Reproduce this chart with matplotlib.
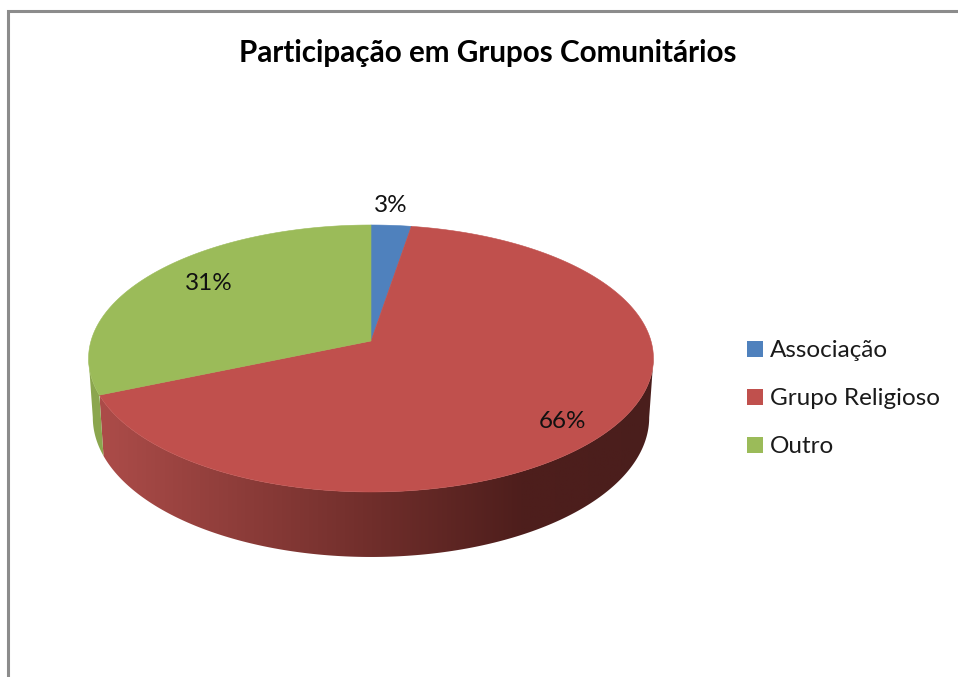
import numpy as np
import matplotlib
matplotlib.use("Agg")
import matplotlib.pyplot as plt
from matplotlib.colors import LinearSegmentedColormap
from matplotlib.patches import Polygon, Rectangle

categories = ["Associação", "Grupo Religioso", "Outro"]
values = [2.6, 66, 31.4]
pct_labels = ["3%", "66%", "31%"]
colors = ["#4f81bd", "#c0504d", "#9bbb59"]
title = "Participação em Grupos Comunitários"

W, H = 958, 677
plt.rcParams["font.family"] = ["Lato", "DejaVu Sans"]

# perspective of the disc, in pixels
CX, CY = 371, 341
A, B, K = 280, 131.2, 0.131


def top_xy(t):
    u, v = np.sin(t), np.cos(t)
    w = 1 + K * v
    return CX + A * u / w, CY - B * v / w


def bottom_xy(t):
    x, y = top_xy(t)
    return CX + (x - CX) * 0.985, y + 58 - 7 * np.cos(t)


def wall(t0, t1):
    ts = np.linspace(t0, t1, 200)
    xa, ya = top_xy(ts)
    xb, yb = bottom_xy(ts[::-1])
    return list(zip(xa, ya)) + list(zip(xb, yb))


fig = plt.figure(figsize=(W / 100, H / 100), dpi=100)
ax = fig.add_axes([0, 0, 1, 1])
ax.axis("off")

# frame of the chart area, cut off by the screenshot
ax.plot([8.5, 8.5, W], [H, 10.5, 10.5], color="#8c8c8c", lw=2.2, solid_joinstyle="miter")

edges = 2 * np.pi * np.cumsum([0] + values) / sum(values)

# only the front of the wall shows, between the two tangent points
t_right = np.arccos(-K)
t_left = 2 * np.pi - np.arccos(-K)

# side wall: red goes dark from left to right, green is a thin sliver
red_cmap = LinearSegmentedColormap.from_list("red_side", [
    (0.0, "#ac4c49"),
    (0.49, "#702e2b"),
    (0.76, "#4e1e1c"),
    (1.0, "#4a1e1c"),
])
red_wall = Polygon(wall(t_right, edges[2]), closed=True, facecolor="none", edgecolor="none")
ax.add_patch(red_wall)
img = ax.imshow(np.linspace(0, 1, 256).reshape(1, -1), cmap=red_cmap, aspect="auto",
                extent=(100, 655, 560, 340), zorder=1)
img.set_clip_path(red_wall)

ax.add_patch(Polygon(wall(edges[2], t_left), closed=True,
                     facecolor="#8ba64e", edgecolor="none", zorder=1))

# top of the slices
for i in range(len(values)):
    ts = np.linspace(edges[i], edges[i + 1], 200)
    xs, ys = top_xy(ts)
    pts = [(CX, CY)] + list(zip(xs, ys))
    ax.add_patch(Polygon(pts, closed=True, facecolor=colors[i], edgecolor=colors[i], lw=0.4, zorder=2))

ax.text(487.5, 53, title, fontsize=21.3, fontweight="bold", ha="center", va="center", color="black")

label_pos = [(391, 205.5), (563, 421.5), (209, 283.5)]
for lab, (x, y) in zip(pct_labels, label_pos):
    ax.text(x, y, lab, fontsize=17.5, ha="center", va="center", color="#111111", zorder=3)

# legend
legend_y = [349, 397, 445]
for name, c, y in zip(categories, colors, legend_y):
    ax.add_patch(Rectangle((747, y - 8), 16, 16, facecolor=c, edgecolor="none"))
    ax.text(770, y + 1.5, name, fontsize=17.5, ha="left", va="center", color="#1a1a1a")

ax.set_xlim(0, W)
ax.set_ylim(H, 0)

fig.savefig("out.png", dpi=100)
